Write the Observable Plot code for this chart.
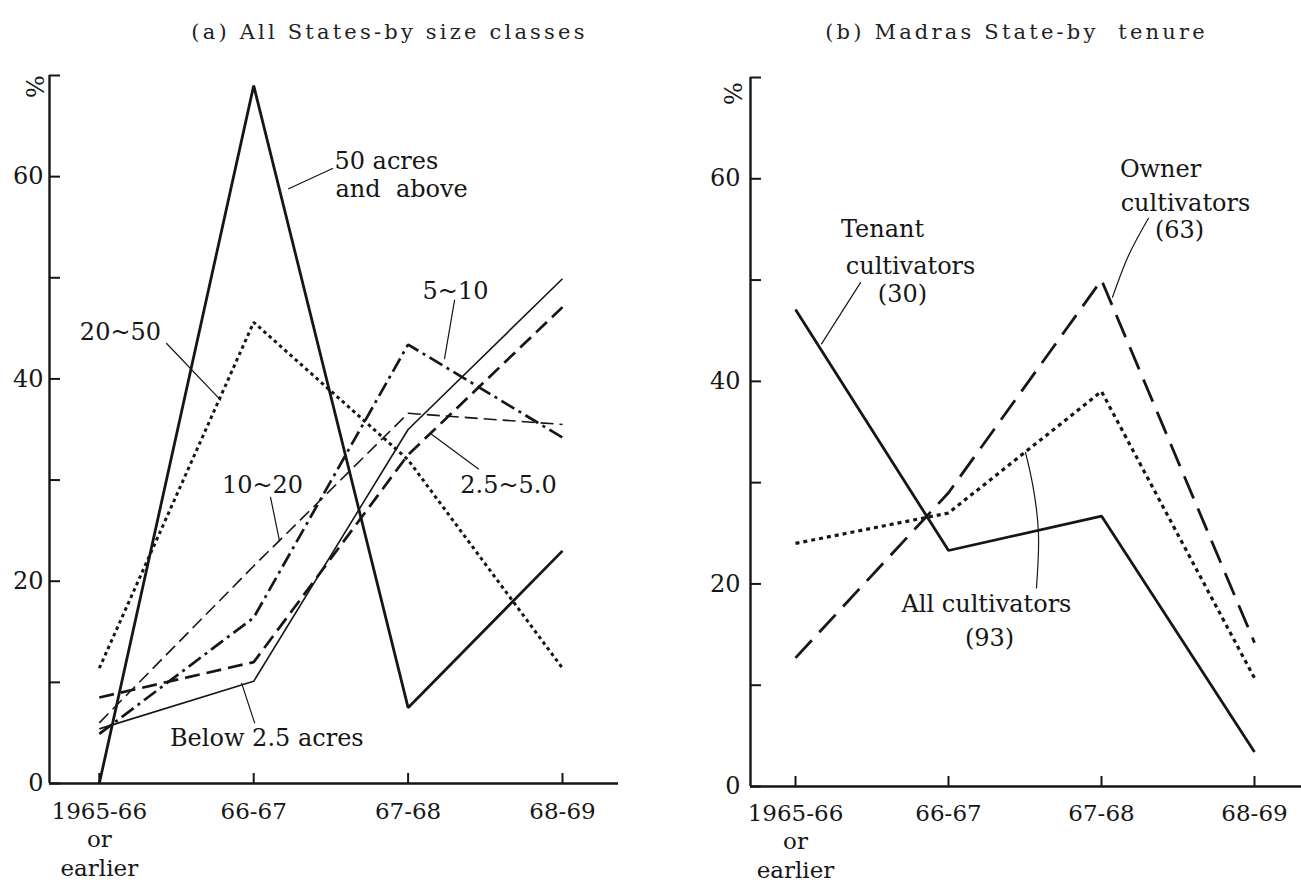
<!DOCTYPE html>
<html><head><meta charset="utf-8">
<script src="https://cdn.jsdelivr.net/npm/d3@7"></script>
<script src="https://cdn.jsdelivr.net/npm/@observablehq/plot@0.6"></script>
<style>
html,body{margin:0;padding:0;background:#fff;}
#wrap{display:flex;width:1301px;height:883px;overflow:hidden;background:#fff;}
#wrap svg{display:block;flex:none;}
</style></head><body><div id="wrap"></div>
<script>
// ---------- Data ----------
const periods = ["1965-66\nor\nearlier", "66-67", "67-68", "68-69"];
const yLabelTicks = [0, 20, 40, 60];
const yMinorTicks = [0, 10, 20, 30, 40, 50, 60, 70];

// (a) All States - by size classes (%)
const sizeNames = ["Below 2.5 acres", "2.5~5.0", "5~10", "10~20", "20~50", "50 acres and above"];
const below2_5 = [5.4, 10.1, 35.0, 49.9];
const size2_5to5 = [8.5, 12.0, 32.5, 47.1];
const size5to10 = [4.9, 16.4, 43.4, 34.2];
const size10to20 = [6.0, 21.5, 36.6, 35.5];
const size20to50 = [11.4, 45.6, 32.0, 11.4];
const size50plus = [0, 69.0, 7.5, 23.0];

// (b) Madras State - by tenure (%)
const tenureNames = ["Tenant cultivators (30)", "Owner cultivators (63)", "All cultivators (93)"];
const tenant = [47.1, 23.3, 26.7, 3.4];
const owner = [12.7, 29.0, 50.0, 14.2];
const allCult = [24.0, 27.0, 39.0, 10.7];

// annotation labels (data coordinates: x = period index, y = %)
const labelsA = [
  {text: "50 acres", x: 1.523, y: 61.5, anchor: "start"},
  {text: "and  above", x: 1.530, y: 58.7, anchor: "start"},
  {text: "20~50", x: 0.137, y: 44.6, anchor: "middle"},
  {text: "5~10", x: 2.307, y: 48.7, anchor: "middle"},
  {text: "10~20", x: 1.057, y: 29.5, anchor: "middle"},
  {text: "2.5~5.0", x: 2.650, y: 29.5, anchor: "middle"},
  {text: "Below 2.5 acres", x: 1.085, y: 4.45, anchor: "middle"}
];
const leadersA = [
  {id: "a1", x: 1.226, y: 58.8}, {id: "a1", x: 1.511, y: 60.8},
  {id: "a2", x: 0.436, y: 43.5}, {id: "a2", x: 0.786, y: 37.9},
  {id: "a3", x: 2.301, y: 47.8}, {id: "a3", x: 2.236, y: 42.0},
  {id: "a4", x: 1.109, y: 28.3}, {id: "a4", x: 1.167, y: 24.0},
  {id: "a5", x: 2.456, y: 31.1}, {id: "a5", x: 2.145, y: 34.6},
  {id: "a6", x: 1.006, y: 6.0}, {id: "a6", x: 0.922, y: 9.9}
];
const labelsB = [
  {text: "Tenant", x: 0.569, y: 55.0, anchor: "middle"},
  {text: "cultivators", x: 0.752, y: 51.4, anchor: "middle"},
  {text: "(30)", x: 0.699, y: 48.6, anchor: "middle"},
  {text: "Owner", x: 2.386, y: 60.9, anchor: "middle"},
  {text: "cultivators", x: 2.549, y: 57.6, anchor: "middle"},
  {text: "(63)", x: 2.510, y: 54.9, anchor: "middle"},
  {text: "All cultivators", x: 1.248, y: 17.97, anchor: "middle"},
  {text: "(93)", x: 1.268, y: 14.6, anchor: "middle"}
];
const leadersB = [
  {id: "b1", x: 0.425, y: 49.75}, {id: "b1", x: 0.170, y: 43.7},
  {id: "b2", x: 2.307, y: 56.1}, {id: "b2", x: 2.176, y: 52.4}, {id: "b2", x: 2.072, y: 48.3},
  {id: "b3", x: 1.575, y: 19.6}, {id: "b3", x: 1.588, y: 25.0}, {id: "b3", x: 1.549, y: 29.9}, {id: "b3", x: 1.503, y: 33.0}
];

// ---------- Styles ----------
const styleA = {
  "Below 2.5 acres": {strokeWidth: 1.6},
  "2.5~5.0": {strokeWidth: 2.7, strokeDasharray: "15,7"},
  "5~10": {strokeWidth: 2.7, strokeDasharray: "15,5,3,5"},
  "10~20": {strokeWidth: 1.6, strokeDasharray: "13,6"},
  "20~50": {strokeWidth: 3, strokeDasharray: "3.5,3.5"},
  "50 acres and above": {strokeWidth: 2.8}
};
const styleB = {
  "Tenant cultivators (30)": {strokeWidth: 2.8},
  "Owner cultivators (63)": {strokeWidth: 2.8, strokeDasharray: "24,11"},
  "All cultivators (93)": {strokeWidth: 3.2, strokeDasharray: "4,4"}
};

const FONT = "'DejaVu Serif', serif";
const INK = "#161616";

function rows(values) {
  return periods.map((p, i) => ({period: p, xi: i, value: values[i]}));
}

function panel(o) {
  const H = 883;
  const frameW = o.width - o.marginLeft - o.marginRight;
  const frameH = H - o.marginTop - o.marginBottom;
  const idx = periods.map((p, i) => i);
  const marks = [
    // axis lines
    Plot.ruleX([o.xDomain[0]], {stroke: INK, strokeWidth: 2.4}),
    Plot.ruleY([0], {stroke: INK, strokeWidth: 2.4}),
    // inward ticks
    Plot.tickY(yMinorTicks, {y: d => d, insetRight: frameW - 11, stroke: INK, strokeWidth: 2}),
    Plot.tickX(idx, {x: d => d, insetTop: frameH - 10, stroke: INK, strokeWidth: 2}),
    // tick labels
    Plot.axisY({ticks: yLabelTicks, tickSize: 0, tickPadding: o.yPad, label: null, fill: INK, fontSize: 24}),
    Plot.axisX({ticks: idx, tickSize: 0, tickPadding: o.xPad, label: null, fill: INK, fontSize: 23,
      tickFormat: i => periods[i], lineHeight: 1.24}),
    // % unit
    Plot.text(["%"], {x: o.xDomain[0], y: o.pctY, dx: o.pctDx, text: d => d, rotate: 90, fontSize: 24, fill: INK}),
    // title
    Plot.text([o.title], {frameAnchor: "top", dx: o.titleDx, dy: 38 - o.marginTop, lineAnchor: "bottom",
      text: d => d, fontSize: 21, fill: "#222"}),
    // leader lines
    Plot.line(o.leaders, {x: "x", y: "y", z: "id", curve: "natural", stroke: INK, strokeWidth: 1.2})
  ];
  o.names.forEach((name, k) => {
    const s = o.styles[name];
    marks.push(Plot.line(rows(o.series[k]), {x: "xi", y: "value", stroke: INK,
      strokeWidth: s.strokeWidth, strokeDasharray: s.strokeDasharray, strokeLinejoin: "miter", strokeLinecap: "butt"}));
  });
  ["start", "middle"].forEach(a => {
    marks.push(Plot.text(o.labels.filter(d => d.anchor === a), {x: "x", y: "y", text: "text",
      textAnchor: a, fontSize: 24, fill: INK}));
  });
  const svg = Plot.plot({
    width: o.width, height: H,
    marginLeft: o.marginLeft, marginRight: o.marginRight, marginTop: o.marginTop, marginBottom: o.marginBottom,
    x: {type: "linear", domain: o.xDomain, axis: null},
    y: {domain: [0, 70], axis: null},
    style: {fontFamily: FONT, background: "#fff", overflow: "visible"},
    marks
  });
  svg.querySelectorAll("text").forEach(t => {
    if (t.textContent === o.title) t.style.letterSpacing = o.titleSpacing + "px";
  });
  return svg;
}

const wrap = document.getElementById("wrap");
wrap.appendChild(panel({
  width: 650, marginLeft: 49, marginRight: 32, marginTop: 75, marginBottom: 100,
  xDomain: [-(98.8 - 49) / 154.4, 3 + (618 - 562) / 154.4],
  names: sizeNames,
  series: [below2_5, size2_5to5, size5to10, size10to20, size20to50, size50plus],
  styles: styleA, labels: labelsA, leaders: leadersA,
  yPad: 6, xPad: 15, pctY: 68.9, pctDx: -16,
  title: "(a) All States-by size classes", titleDx: 389 - (49 + 618) / 2, titleSpacing: 3.2
}));
wrap.appendChild(panel({
  width: 651, marginLeft: 100, marginRight: 0, marginTop: 77, marginBottom: 97,
  xDomain: [-(795 - 750) / 153, 3 + (1301 - 1254) / 153],
  names: tenureNames,
  series: [tenant, owner, allCult],
  styles: styleB, labels: labelsB, leaders: leadersB,
  yPad: 10, xPad: 14, pctY: 68.4, pctDx: -19,
  title: "(b) Madras State-by  tenure", titleDx: 1016 - 650 - (100 + 651) / 2, titleSpacing: 3.2
}));
</script></body></html>
